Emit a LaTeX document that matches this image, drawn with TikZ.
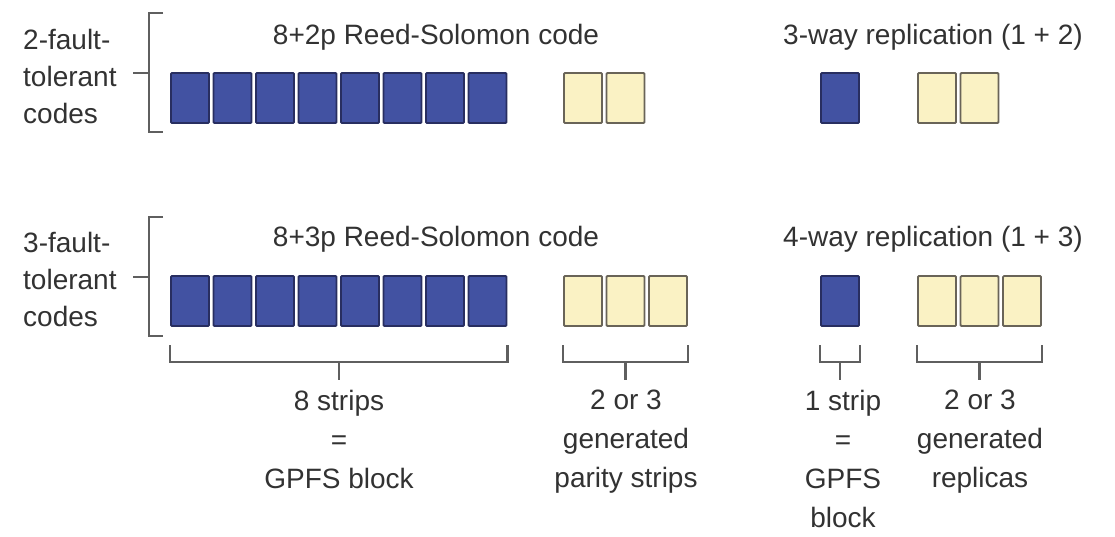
\documentclass[tikz,border=0pt]{standalone}
\usepackage{fontspec}
\setmainfont{Liberation Sans}
\definecolor{bluefill}{RGB}{66,82,162}
\definecolor{blueborder}{RGB}{40,46,96}
\definecolor{ylwfill}{RGB}{250,242,196}
\definecolor{ylwborder}{RGB}{105,100,88}
\definecolor{brkgray}{RGB}{95,95,95}
\definecolor{txt}{RGB}{50,50,50}
\begin{document}
\begin{tikzpicture}[x=1pt,y=-1pt,
  blk/.style={draw=blueborder, fill=bluefill, line width=1.8pt, minimum width=38pt, minimum height=50pt, inner sep=0pt, rounded corners=1pt},
  ylw/.style={draw=ylwborder, fill=ylwfill, line width=1.8pt, minimum width=38pt, minimum height=50pt, inner sep=0pt, rounded corners=1pt},
  brk/.style={draw=brkgray, line width=2.4pt},
  lbl/.style={text=txt, font=\fontsize{28}{40}\selectfont, inner sep=0pt},
  side/.style={lbl, font=\fontsize{28}{37}\selectfont, align=left, anchor=west},
  foot/.style={lbl, font=\fontsize{28}{39}\selectfont, align=center, anchor=north}]
\useasboundingbox (0,0) rectangle (1115,536);
\fill[white] (0,0) rectangle (1115,536);
% row 1
\foreach \i in {1,...,8} \node[blk] (a\i) at ({190+(\i-1)*42.5}, 98) {};
\foreach \i in {1,2} \node[ylw] (p\i) at ({583+(\i-1)*42.5}, 98) {};
\node[blk] (s1) at (840,98) {};
\foreach \i in {1,2} \node[ylw] (r\i) at ({937+(\i-1)*42.5}, 98) {};
% row 2
\foreach \i in {1,...,8} \node[blk] (b\i) at ({190+(\i-1)*42.5}, 301) {};
\foreach \i in {1,2,3} \node[ylw] (q\i) at ({583+(\i-1)*42.5}, 301) {};
\node[blk] (s2) at (840,301) {};
\foreach \i in {1,2,3} \node[ylw] (t\i) at ({937+(\i-1)*42.5}, 301) {};
% titles
\node[lbl] (t1a) at (436,37) {8+2p Reed-Solomon code};
\node[lbl] (t1b) at (933,37) {3-way replication (1 + 2)};
\node[lbl] (t2a) at (436,239) {8+3p Reed-Solomon code};
\node[lbl] (t2b) at (933,239) {4-way replication (1 + 3)};
% side labels
\node[side] (l1) at (23,76) {2-fault-\\tolerant\\codes};
\node[side] (l2) at (23,279) {3-fault-\\tolerant\\codes};
% left brackets
\draw[brk] (163,13) -- (149,13) -- (149,132) -- (163,132);
\draw[brk] (133,73) -- (149,73);
\draw[brk] (163,217) -- (149,217) -- (149,336) -- (163,336);
\draw[brk] (133,277) -- (149,277);
% bottom brackets
\draw[brk] (b1.west |- 0,345) -- (b1.west |- 0,362) -- (b8.east |- 0,362) -- (b8.east |- 0,345);
\draw[brk] (339,362) -- (339,380);
\draw[brk] (q1.west |- 0,345) -- (q1.west |- 0,362) -- (q3.east |- 0,362) -- (q3.east |- 0,345);
\draw[brk] (q2.center |- 0,362) -- (q2.center |- 0,380);
\draw[brk] (s2.west |- 0,345) -- (s2.west |- 0,362) -- (s2.east |- 0,362) -- (s2.east |- 0,345);
\draw[brk] (s2.center |- 0,362) -- (s2.center |- 0,380);
\draw[brk] (t1.west |- 0,345) -- (t1.west |- 0,362) -- (t3.east |- 0,362) -- (t3.east |- 0,345);
\draw[brk] (t2.center |- 0,362) -- (t2.center |- 0,380);
% footer labels
\node[foot] (f1) at (339,390) {8 strips\\=\\GPFS block};
\node[foot] (f2) at (626,390) {2 or 3\\generated\\parity strips};
\node[foot] (f3) at (843,390) {1 strip\\=\\GPFS\\block};
\node[foot] (f4) at (980,390) {2 or 3\\generated\\replicas};
\end{tikzpicture}
\end{document}
